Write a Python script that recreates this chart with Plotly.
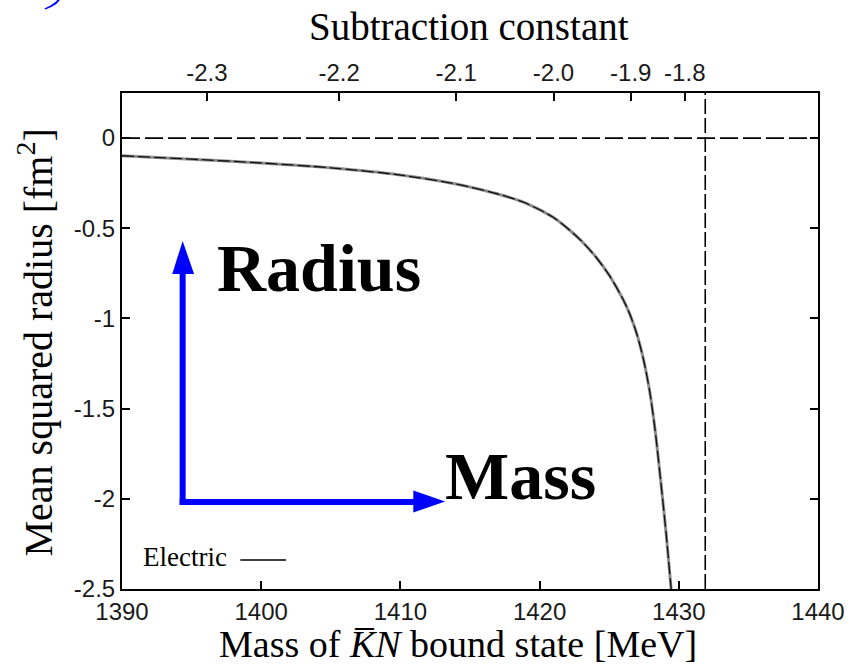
import plotly.graph_objects as go

# Mean squared radius of the KbarN bound state versus its mass
mass_mev = [1390.0, 1395.0, 1400.0, 1405.0, 1410.0, 1414.0, 1417.0, 1419.0,
            1421.0, 1422.0, 1423.0, 1424.0, 1425.0, 1426.0, 1426.5, 1427.0,
            1427.5, 1427.9, 1428.3, 1428.7, 1429.1, 1429.45]
radius_fm2 = [-0.098, -0.117, -0.138, -0.165, -0.205, -0.255, -0.310, -0.360,
              -0.440, -0.500, -0.570, -0.655, -0.760, -0.895, -0.980, -1.090,
              -1.240, -1.400, -1.620, -1.900, -2.200, -2.500]

threshold_mev = 1431.9

# Subtraction constant scale shown along the top axis
subtraction_constants = ["-2.3", "-2.2", "-2.1", "-2.0", "-1.9", "-1.8"]
subtraction_mass = [1396.1, 1405.6, 1414.0, 1421.0, 1426.55, 1430.43]

x_ticks = [1390, 1400, 1410, 1420, 1430, 1440]
y_ticks = [0, -0.5, -1, -1.5, -2, -2.5]
y_tick_text = ["0", "-0.5", "-1", "-1.5", "-2", "-2.5"]

W, H = 857, 669
L, R, T, B = 122, 822, 93, 589


def px(x, y):
    """Pixel position -> paper coordinates."""
    return (x - L) / (R - L), (B - y) / (B - T)


serif = "Liberation Serif, Times New Roman, serif"
sans = "Liberation Sans, Arial, sans-serif"

fig = go.Figure()

# zero line and threshold line
fig.add_trace(go.Scatter(x=[1390, 1440], y=[0, 0], mode="lines",
                         line=dict(color="black", width=1.6, dash="18px,5px"),
                         hoverinfo="skip", showlegend=False))
fig.add_trace(go.Scatter(x=[threshold_mev, threshold_mev], y=[-2.5, 0.25], mode="lines",
                         line=dict(color="black", width=1.6, dash="15px,4px"),
                         hoverinfo="skip", showlegend=False))

# electric mean squared radius curve
fig.add_trace(go.Scatter(x=mass_mev, y=radius_fm2, mode="lines",
                         line=dict(color="#8c8c8c", width=3, shape="spline", smoothing=0.7),
                         showlegend=False))
fig.add_trace(go.Scatter(x=mass_mev, y=radius_fm2, mode="lines",
                         line=dict(color="#111111", width=1.3, shape="spline", smoothing=0.7,
                                   dash="12px,4px"),
                         showlegend=False))

# invisible trace carrying the top axis
fig.add_trace(go.Scatter(x=[1390, 1440], y=[None, None], xaxis="x2", mode="lines",
                         showlegend=False, hoverinfo="skip"))

axis_common = dict(showline=True, linecolor="black", linewidth=2,
                   ticks="inside", ticklen=8, tickwidth=1.5, tickcolor="black",
                   showgrid=False, zeroline=False,
                   tickfont=dict(family=sans, size=24, color="#1a1a1a"))

fig.update_layout(
    width=W, height=H,
    margin=dict(l=L, r=W - R, t=T, b=H - B, pad=0),
    paper_bgcolor="white", plot_bgcolor="white",
    xaxis=dict(range=[1390, 1440], tickvals=x_ticks, ticktext=[str(v) for v in x_ticks],
               mirror=False, **axis_common),
    xaxis2=dict(range=[1390, 1440], overlaying="x", side="top",
                tickvals=subtraction_mass, ticktext=subtraction_constants,
                **axis_common),
    yaxis=dict(range=[-2.5, 0.25], tickvals=y_ticks, ticktext=y_tick_text,
               mirror="ticks", **axis_common),
)

annotations = []


def label(text, x, y, size, xanchor="center", yanchor="middle", angle=0,
          family=serif, color="black"):
    ax, ay = px(x, y)
    annotations.append(dict(text=text, x=ax, y=ay, xref="paper", yref="paper",
                            xanchor=xanchor, yanchor=yanchor, showarrow=False,
                            textangle=angle, font=dict(family=family, size=size, color=color)))


label("Subtraction constant", 471, 26, 39)
label("Mass of <i>K\u0305N</i> bound state [MeV]", 460, 644, 38)
label("Mean squared radius [fm<sup>2</sup>]", 35, 342, 40, angle=-90)
label("Electric", 141, 557, 27, xanchor="left")
label("<b>Radius</b>", 216, 268, 68, xanchor="left")
label("<b>Mass</b>", 445, 476, 68, xanchor="left")

fig.update_layout(annotations=annotations)

shapes = []
# legend line sample
x0, y0 = px(241, 560)
x1, y1 = px(287, 560)
shapes.append(dict(type="line", xref="paper", yref="paper", x0=x0, y0=y0, x1=x1, y1=y1,
                   line=dict(color="black", width=1.6)))

blue = "#0000ff"
# blue axes-style arrows
a0 = px(183, 505)
a1 = px(183, 272)
shapes.append(dict(type="line", xref="paper", yref="paper", x0=a0[0], y0=a0[1],
                   x1=a1[0], y1=a1[1], line=dict(color=blue, width=6)))
b0 = px(180, 502)
b1 = px(416, 502)
shapes.append(dict(type="line", xref="paper", yref="paper", x0=b0[0], y0=b0[1],
                   x1=b1[0], y1=b1[1], line=dict(color=blue, width=6)))


def poly(points):
    pts = [px(x, y) for x, y in points]
    return "M " + " L ".join(f"{p[0]:.5f},{p[1]:.5f}" for p in pts) + " Z"


shapes.append(dict(type="path", xref="paper", yref="paper",
                   path=poly([(172.5, 274), (194.5, 274), (183, 241)]),
                   fillcolor=blue, line=dict(width=0)))
shapes.append(dict(type="path", xref="paper", yref="paper",
                   path=poly([(415, 490.5), (415, 512.5), (447, 501.5)]),
                   fillcolor=blue, line=dict(width=0)))
# small blue stroke in the upper-left corner
shapes.append(dict(type="path", xref="paper", yref="paper",
                   path=poly([(44, 8.5), (50, 5.5), (55, 2), (57, 0), (59.5, 0),
                              (56, 4), (51, 7), (45, 9.5)]),
                   fillcolor=blue, line=dict(width=0)))

fig.update_layout(shapes=shapes)

fig.write_html("out.html")
